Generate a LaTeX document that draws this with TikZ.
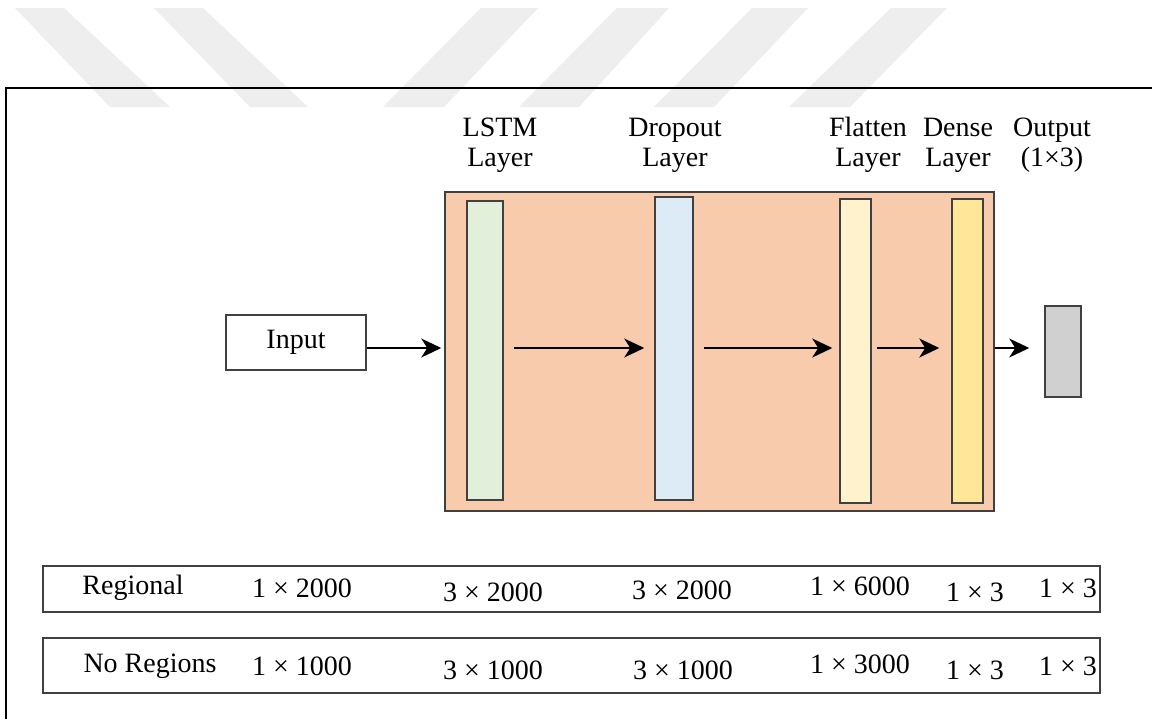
\documentclass[tikz,border=0pt]{standalone}
\usepackage{fontspec}
\setmainfont{Liberation Serif}
\usetikzlibrary{arrows.meta}

\definecolor{stackfill}{HTML}{F8CBAD}
\definecolor{lstmfill}{HTML}{E2EFDA}
\definecolor{dropfill}{HTML}{DDEBF7}
\definecolor{flatfill}{HTML}{FFF2CC}
\definecolor{densefill}{HTML}{FFE699}
\definecolor{outfill}{HTML}{D0D0D0}
\definecolor{edge}{HTML}{404040}
\definecolor{stripegray}{HTML}{EEEEEE}

\tikzset{
  box/.style={draw=edge, line width=1.5pt, inner sep=0pt, rectangle},
  bar/.style={box},
  arr/.style={line width=1.5pt, -{Stealth[length=20pt,width=19pt,inset=6pt]}},
  lbl/.style={align=center, inner sep=0pt, font=\fontsize{28}{30}\selectfont},
  cell/.style={inner sep=0pt, font=\fontsize{28}{30}\selectfont},
}

\begin{document}
\begin{tikzpicture}[x=1pt,y=-1pt]
\useasboundingbox (0,0) rectangle (1152,718);
\clip (0,0) rectangle (1152,718);
\fill[white] (0,0) rectangle (1152,718);

% faint stripes across the top margin
\fill[stripegray] (15,8) -- (64,8) -- (170,107) -- (110,107) -- cycle;
\fill[stripegray] (154,8) -- (203,8) -- (308,107) -- (250,107) -- cycle;
\fill[stripegray] (481,8) -- (538,8) -- (444,107) -- (383,107) -- cycle;
\fill[stripegray] (617,8) -- (669,8) -- (579,107) -- (519,107) -- cycle;
\fill[stripegray] (752,8) -- (808,8) -- (714,107) -- (654,107) -- cycle;
\fill[stripegray] (891,8) -- (947,8) -- (850,107) -- (789,107) -- cycle;

% outer frame
\draw[line width=2.2pt] (6,730) -- (6,88) -- (1160,88);

% layer titles
\node[lbl] (tlstm) at (500,145) {LSTM\\Layer};
\node[lbl] (tdrop) at (675,145) {Dropout\\Layer};
\node[lbl] (tflat) at (868,145) {Flatten\\Layer};
\node[lbl] (tdense) at (958,145) {Dense\\Layer};
\node[lbl] (tout) at (1052,145) {Output\\(1×3)};

% network stack
\node[box, fill=stackfill, minimum width=549pt, minimum height=319pt] (stack) at (719.5,351.5) {};
\node[bar, fill=lstmfill, minimum width=36pt, minimum height=299pt] (lstm) at (485,350.5) {};
\node[bar, fill=dropfill, minimum width=38pt, minimum height=303pt] (drop) at (674,348.5) {};
\node[bar, fill=flatfill, minimum width=31pt, minimum height=304pt] (flat) at (855.5,351) {};
\node[bar, fill=densefill, minimum width=31pt, minimum height=304pt] (dense) at (967.5,351) {};
\node[box, fill=outfill, minimum width=36pt, minimum height=91pt] (out) at (1063,351.5) {};
\node[box, fill=white, minimum width=140pt, minimum height=55pt, font=\fontsize{28}{30}\selectfont] (input) at (296,342.5) {Input};

% connectors
\coordinate (ay) at (0,348);
\draw[arr, shorten >=3pt] (input.east |- ay) -- (stack.west |- ay);
\draw[arr, shorten <=10pt, shorten >=10pt] (lstm.east |- ay) -- (drop.west |- ay);
\draw[arr, shorten <=10pt, shorten >=7pt] (drop.east |- ay) -- (flat.west |- ay);
\draw[arr, shorten <=5pt, shorten >=12pt] (flat.east |- ay) -- (dense.west |- ay);
\draw[arr, shorten >=15pt] (stack.east |- ay) -- (out.west |- ay);

% shape table
\node[box, minimum width=1057pt, minimum height=46pt] (rowA) at (571.5,589) {};
\node[box, minimum width=1057pt, minimum height=55pt] (rowB) at (571.5,665.5) {};

\node[cell] (a0) at (133,588) {Regional};
\node[cell] (a1) at (302,588) {1 × 2000};
\node[cell] (a2) at (493,592) {3 × 2000};
\node[cell] (a3) at (682,590) {3 × 2000};
\node[cell] (a4) at (860,586) {1 × 6000};
\node[cell] (a5) at (975,592) {1 × 3};
\node[cell] (a6) at (1068,588) {1 × 3};

\node[cell] (b0) at (150,666) {No Regions};
\node[cell] (b1) at (302,666) {1 × 1000};
\node[cell] (b2) at (493,670) {3 × 1000};
\node[cell] (b3) at (683,670) {3 × 1000};
\node[cell] (b4) at (860,664) {1 × 3000};
\node[cell] (b5) at (975,670) {1 × 3};
\node[cell] (b6) at (1068,666) {1 × 3};
\end{tikzpicture}
\end{document}
